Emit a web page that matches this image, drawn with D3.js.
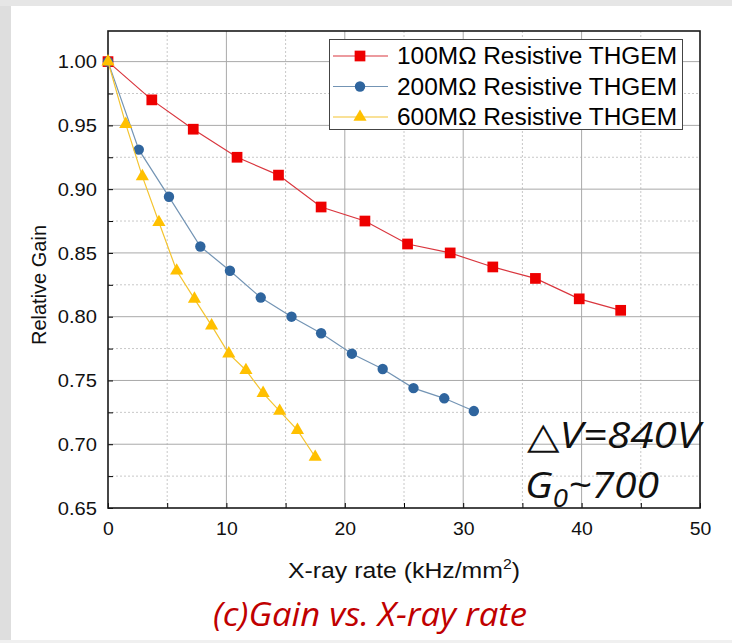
<!DOCTYPE html>
<html>
<head>
<meta charset="utf-8">
<script src="https://cdn.jsdelivr.net/npm/d3@7"></script>
<style>
  html, body { margin: 0; padding: 0; background: #fff; }
  svg { display: block; font-family: Arial, "Liberation Sans", sans-serif; }
</style>
</head>
<body>
<svg id="chart" width="732" height="643"></svg>
<script>
// data
var rate100 = [0, 3.7, 7.2, 10.9, 14.4, 18.0, 21.7, 25.3, 28.9, 32.5, 36.1, 39.8, 43.3];
var gain100 = [1.000, 0.970, 0.947, 0.925, 0.911, 0.886, 0.875, 0.857, 0.850, 0.839, 0.830, 0.814, 0.805];
var rate200 = [0, 2.6, 5.15, 7.8, 10.3, 12.9, 15.5, 18.0, 20.6, 23.2, 25.8, 28.4, 30.9];
var gain200 = [1.000, 0.931, 0.894, 0.855, 0.836, 0.815, 0.800, 0.787, 0.771, 0.759, 0.744, 0.736, 0.726];
var rate600 = [0, 1.5, 2.9, 4.3, 5.8, 7.3, 8.75, 10.2, 11.65, 13.1, 14.5, 16.0, 17.5];
var gain600 = [1.000, 0.951, 0.910, 0.874, 0.836, 0.814, 0.793, 0.771, 0.758, 0.740, 0.726, 0.711, 0.690];
var seriesNames = ['100M\u03A9 Resistive THGEM', '200M\u03A9 Resistive THGEM', '600M\u03A9 Resistive THGEM'];
var xTicks = [0, 10, 20, 30, 40, 50];
var yTicks = [0.65, 0.70, 0.75, 0.80, 0.85, 0.90, 0.95, 1.00];

var svg = d3.select('#chart');
var W = 732, H = 643;
var pL = 108, pR = 700, pT = 31, pB = 508;

// greyish photo frame on the left / top edges
svg.append('rect').attr('width', W).attr('height', H).attr('fill', '#fff');
svg.append('rect').attr('x', 0).attr('y', 0).attr('width', 11).attr('height', H).attr('fill', '#dedede');
svg.append('rect').attr('x', 0).attr('y', 0).attr('width', W).attr('height', 6).attr('fill', '#e6e6e6');
svg.append('rect').attr('x', 0).attr('y', H - 3).attr('width', W).attr('height', 3).attr('fill', '#f0f0f0');

var x = d3.scaleLinear().domain([0, 50]).range([pL, pR]);
var y = d3.scaleLinear().domain([0.65, 1.024]).range([pB, pT]);

var grid = svg.append('g');
// minor grid (dashed)
d3.range(5, 50, 10).forEach(function(v) {
  grid.append('line').attr('x1', x(v)).attr('x2', x(v)).attr('y1', pT).attr('y2', pB)
    .attr('stroke', '#c8c8c8').attr('stroke-dasharray', '2,2');
});
d3.range(0.675, 1.02, 0.05).forEach(function(v) {
  grid.append('line').attr('x1', pL).attr('x2', pR).attr('y1', y(v)).attr('y2', y(v))
    .attr('stroke', '#c8c8c8').attr('stroke-dasharray', '2,2');
});
// major grid
xTicks.slice(1, -1).forEach(function(v) {
  grid.append('line').attr('x1', x(v)).attr('x2', x(v)).attr('y1', pT).attr('y2', pB)
    .attr('stroke', '#a9a9a9');
});
yTicks.slice(1).forEach(function(v) {
  grid.append('line').attr('x1', pL).attr('x2', pR).attr('y1', y(v)).attr('y2', y(v))
    .attr('stroke', '#a9a9a9');
});

// axes with inward ticks
var xAxis = svg.append('g').attr('transform', 'translate(0,' + pB + ')')
  .call(d3.axisBottom(x).tickValues(d3.range(0, 51, 5)).tickSize(-5).tickPadding(14)
    .tickFormat(function(d) { return xTicks.indexOf(d) >= 0 ? d : ''; }));
var yAxis = svg.append('g').attr('transform', 'translate(' + pL + ',0)')
  .call(d3.axisLeft(y).tickValues(d3.range(0, 15).map(function(i) { return 0.65 + i * 0.025; }))
    .tickSize(-5).tickPadding(11)
    .tickFormat(function(d, i) { return i % 2 === 0 ? d3.format('.2f')(d) : ''; }));
[xAxis, yAxis].forEach(function(a) {
  a.select('.domain').remove();
  a.selectAll('.tick line').attr('stroke', '#000');
  a.selectAll('.tick text').attr('font-size', 19).attr('fill', '#111')
    .attr('font-family', 'Arial, "Liberation Sans", sans-serif')
    .attr('lengthAdjust', 'spacingAndGlyphs')
    .attr('textLength', function() { var n = this.textContent.length; return n ? n * 10.8 - (n > 2 ? 4 : 0) : null; });
});

// frame
svg.append('rect').attr('x', pL).attr('y', pT).attr('width', pR - pL).attr('height', pB - pT)
  .attr('fill', 'none').attr('stroke', '#1a1a1a').attr('stroke-width', 1.6);

var series = [
  { xs: rate100, ys: gain100, line: '#d9363e', fill: '#ee0000', sym: d3.symbolSquare, size: 115 },
  { xs: rate200, ys: gain200, line: '#7394b4', fill: '#2f659e', sym: d3.symbolCircle, size: 85 },
  { xs: rate600, ys: gain600, line: '#f4c430', fill: '#ffc000', sym: d3.symbolTriangle, size: 75 }
];

var line = d3.line().x(function(d) { return x(d[0]); }).y(function(d) { return y(d[1]); });

series.forEach(function(s) {
  var pts = d3.zip(s.xs, s.ys);
  svg.append('path').datum(pts).attr('d', line).attr('fill', 'none')
    .attr('stroke', s.line).attr('stroke-width', 1.2);
  svg.append('g').selectAll('path').data(pts).enter().append('path')
    .attr('transform', function(d) { return 'translate(' + x(d[0]) + ',' + y(d[1]) + ')'; })
    .attr('d', d3.symbol().type(s.sym).size(s.size))
    .attr('fill', s.fill);
});

// legend
var lg = svg.append('g');
lg.append('rect').attr('x', 329.5).attr('y', 39.5).attr('width', 353).attr('height', 90)
  .attr('fill', '#fff').attr('stroke', '#444').attr('stroke-width', 1);
series.forEach(function(s, i) {
  var cy = 56 + i * 30.5;
  lg.append('line').attr('x1', 333).attr('x2', 388).attr('y1', cy).attr('y2', cy)
    .attr('stroke', s.line).attr('stroke-width', 1.2);
  lg.append('path').attr('transform', 'translate(360,' + cy + ')')
    .attr('d', d3.symbol().type(s.sym).size(s.size)).attr('fill', s.fill);
  lg.append('text').attr('x', 397).attr('y', cy + 8).attr('font-size', 23)
    .attr('textLength', 280).attr('lengthAdjust', 'spacingAndGlyphs')
    .attr('fill', '#000').text(seriesNames[i]);
});

// axis titles
var xt = svg.append('text').attr('x', (pL + pR) / 2).attr('y', 578).attr('text-anchor', 'middle')
  .attr('font-size', 22).attr('fill', '#111')
  .attr('textLength', 232).attr('lengthAdjust', 'spacingAndGlyphs');
xt.append('tspan').text('X-ray rate (kHz/mm');
xt.append('tspan').attr('font-size', 14).attr('dy', -9).text('2');
xt.append('tspan').attr('dy', 9).text(')');

svg.append('text').attr('transform', 'translate(46,' + 285 + ') rotate(-90)')
  .attr('text-anchor', 'middle').attr('font-size', 20).attr('fill', '#111').text('Relative Gain');

// annotations
var ann = '"Open Sans", "DejaVu Sans", sans-serif';
svg.append('text').attr('x', 527).attr('y', 448).attr('font-family', ann).attr('font-style', 'italic')
  .attr('font-size', 37).attr('textLength', 173).attr('lengthAdjust', 'spacingAndGlyphs')
  .attr('fill', '#111').text('\u25B3V=840V');
var g0 = svg.append('text').attr('x', 525).attr('y', 498).attr('font-family', ann).attr('font-style', 'italic')
  .attr('font-size', 37).attr('fill', '#111')
  .attr('textLength', 134).attr('lengthAdjust', 'spacingAndGlyphs');
g0.append('tspan').text('G');
g0.append('tspan').attr('font-size', 25).attr('dy', 9).text('0');
g0.append('tspan').attr('dy', -9).text('~700');

// caption
svg.append('text').attr('x', 370).attr('y', 626).attr('text-anchor', 'middle')
  .attr('font-family', ann).attr('font-style', 'italic').attr('font-size', 33)
  .attr('textLength', 314).attr('lengthAdjust', 'spacingAndGlyphs')
  .attr('fill', '#c00000').text('(c)Gain vs. X-ray rate');
</script>
</body>
</html>
